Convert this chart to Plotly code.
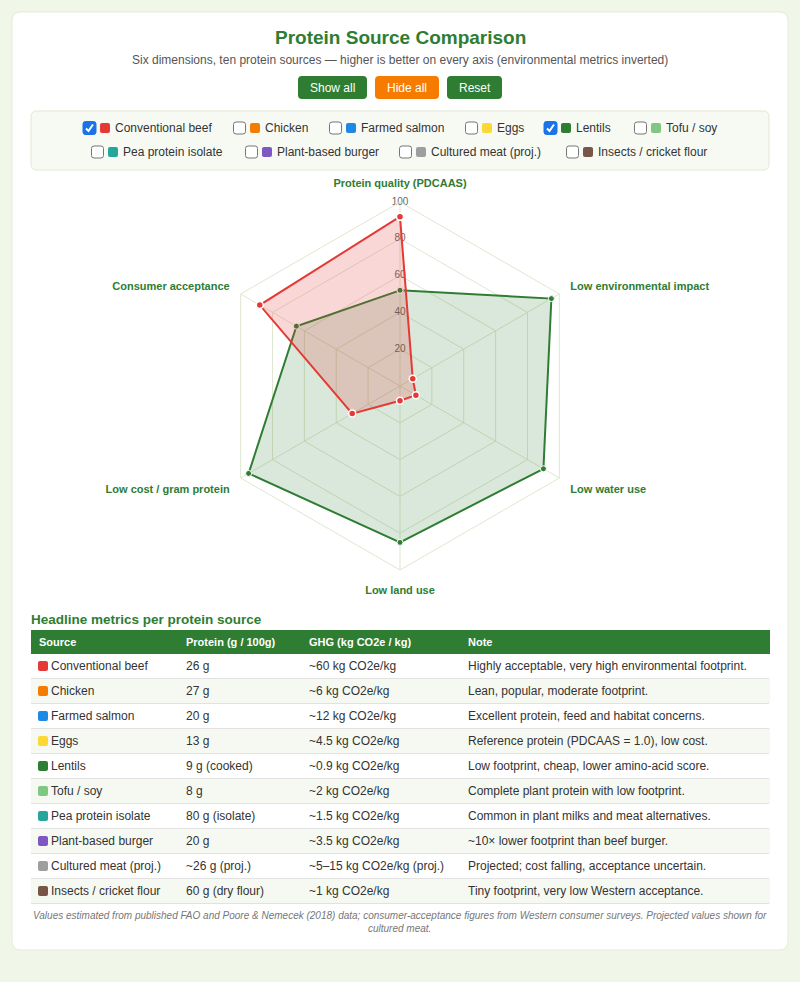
import plotly.graph_objects as go

W, H = 800, 982
FONT = "Liberation Sans, Arial, Helvetica, sans-serif"
GREEN = "#2e7d32"

# ---------------- data ----------------
axes_labels = ["Protein quality (PDCAAS)", "Low environmental impact", "Low water use",
               "Low land use", "Low cost / gram protein", "Consumer acceptance"]
radial_ticks = [20, 40, 60, 80, 100]
beef_values = [92, 8, 10, 8, 30, 88]
lentil_values = [52, 95, 90, 85, 95, 65]

sources = ["Conventional beef", "Chicken", "Farmed salmon", "Eggs", "Lentils", "Tofu / soy",
           "Pea protein isolate", "Plant-based burger", "Cultured meat (proj.)", "Insects / cricket flour"]
source_colors = ["#e53935", "#f57c00", "#1e88e5", "#fdd835", "#2e7d32", "#81c784",
                 "#26a69a", "#7e57c2", "#9e9e9e", "#795548"]
checked = [True, False, False, False, True, False, False, False, False, False]
protein = ["26 g", "27 g", "20 g", "13 g", "9 g (cooked)", "8 g", "80 g (isolate)", "20 g",
           "~26 g (proj.)", "60 g (dry flour)"]
ghg = ["~60 kg CO2e/kg", "~6 kg CO2e/kg", "~12 kg CO2e/kg", "~4.5 kg CO2e/kg", "~0.9 kg CO2e/kg",
       "~2 kg CO2e/kg", "~1.5 kg CO2e/kg", "~3.5 kg CO2e/kg", "~5\u201315 kg CO2e/kg (proj.)", "~1 kg CO2e/kg"]
notes = ["Highly acceptable, very high environmental footprint.",
         "Lean, popular, moderate footprint.",
         "Excellent protein, feed and habitat concerns.",
         "Reference protein (PDCAAS = 1.0), low cost.",
         "Low footprint, cheap, lower amino-acid score.",
         "Complete plant protein with low footprint.",
         "Common in plant milks and meat alternatives.",
         "~10\u00d7 lower footprint than beef burger.",
         "Projected; cost falling, acceptance uncertain.",
         "Tiny footprint, very low Western acceptance."]
table_headers = ["Source", "Protein (g / 100g)", "GHG (kg CO2e / kg)", "Note"]
button_labels = ["Show all", "Hide all", "Reset"]


def X(x):
    return x / W


def Y(y):
    return 1 - y / H


def rrect_path(x0, y0, x1, y1, r):
    p = [("M", x0 + r, y0), ("L", x1 - r, y0), ("Q", x1, y0, x1, y0 + r), ("L", x1, y1 - r),
         ("Q", x1, y1, x1 - r, y1), ("L", x0 + r, y1), ("Q", x0, y1, x0, y1 - r), ("L", x0, y0 + r),
         ("Q", x0, y0, x0 + r, y0)]
    out = []
    for seg in p:
        cmd = seg[0]
        coords = seg[1:]
        pts = []
        for i in range(0, len(coords), 2):
            pts.append(f"{X(coords[i]):.5f},{Y(coords[i+1]):.5f}")
        out.append(cmd + " " + " ".join(pts))
    return " ".join(out) + " Z"


fig = go.Figure()

# radial tick labels (centered on the vertical spoke)
fig.add_trace(go.Scatterpolar(
    r=radial_ticks, theta=[axes_labels[0]] * len(radial_ticks), mode="text",
    text=[str(v) for v in radial_ticks], textposition="middle center",
    textfont=dict(size=10, color="#666", family=FONT), hoverinfo="skip", showlegend=False))

fig.add_trace(go.Scatterpolar(
    r=lentil_values + lentil_values[:1], theta=axes_labels + axes_labels[:1],
    name="Lentils", mode="lines+markers", fill="toself",
    fillcolor="rgba(46,125,50,0.18)", line=dict(color="#2e7d32", width=2),
    marker=dict(size=6, color="#2e7d32", line=dict(color="white", width=1)), showlegend=False))

fig.add_trace(go.Scatterpolar(
    r=beef_values + beef_values[:1], theta=axes_labels + axes_labels[:1],
    name="Conventional beef", mode="lines+markers", fill="toself",
    fillcolor="rgba(229,57,53,0.2)", line=dict(color="#e53935", width=2),
    marker=dict(size=7, color="#e53935", line=dict(color="white", width=1.5)), showlegend=False))

# table
n = len(sources)
row_fill = ["#ffffff" if i % 2 == 0 else "#f6f9f1" for i in range(n)]
fig.add_trace(go.Table(
    domain=dict(x=[X(31), X(769)], y=[Y(905), Y(630)]),
    columnwidth=[147, 123, 159, 309],
    header=dict(values=table_headers, align="left", height=23,
                fill=dict(color=GREEN), line=dict(color=GREEN, width=1),
                font=dict(color="white", size=11, family=FONT, weight="bold")),
    cells=dict(values=[["\u2003" + s for s in sources], protein, ghg, notes], align="left", height=25,
               fill=dict(color=[row_fill] * 4), line=dict(color=[row_fill] * 4, width=1),
               font=dict(color="#333", size=12, family=FONT))))

shapes = []
annotations = []

# card
shapes.append(dict(type="path", path=rrect_path(12, 12, 788, 950, 9), xref="paper", yref="paper",
                   fillcolor="white", line=dict(color="#e4ecda", width=1), layer="below"))
# legend panel
shapes.append(dict(type="path", path=rrect_path(31, 111, 769, 170, 6), xref="paper", yref="paper",
                   fillcolor="#f7faf3", line=dict(color="#dfe8d3", width=1), layer="below"))

# title / subtitle
annotations.append(dict(text="<b>Protein Source Comparison</b>", x=0.5, y=Y(38), xref="paper", yref="paper",
                        showarrow=False, font=dict(size=19, color=GREEN, family=FONT), xanchor="center", yanchor="middle"))
annotations.append(dict(text="Six dimensions, ten protein sources \u2014 higher is better on every axis (environmental metrics inverted)",
                        x=0.5, y=Y(60), xref="paper", yref="paper", showarrow=False,
                        font=dict(size=12, color="#555", family=FONT), xanchor="center", yanchor="middle"))

# buttons
button_box = [(298, 367, GREEN), (375, 439, "#f57c00"), (447, 502, GREEN)]
for lbl, (bx0, bx1, col) in zip(button_labels, button_box):
    shapes.append(dict(type="path", path=rrect_path(bx0, 76, bx1, 99, 4), xref="paper", yref="paper",
                       fillcolor=col, line=dict(width=0), layer="above"))
    annotations.append(dict(text=lbl, x=X((bx0 + bx1) / 2), y=Y(87.5), xref="paper", yref="paper",
                            showarrow=False, xanchor="center", yanchor="middle",
                            font=dict(size=12, color="white", family=FONT)))

# checkbox legend
legend_pos = [  # (checkbox x, row y)
    (83, 128), (233, 128), (329, 128), (465, 128), (544, 128), (634, 128),
    (91, 152), (245, 152), (399, 152), (566, 152)]
for i, (cx, cy) in enumerate(legend_pos):
    if checked[i]:
        shapes.append(dict(type="path", path=rrect_path(cx, cy - 6.5, cx + 13, cy + 6.5, 2.5), xref="paper", yref="paper",
                           fillcolor="#1a73e8", line=dict(color="#1a73e8", width=1), layer="above"))
        chk = f"M {X(cx+3):.5f},{Y(cy+0.5):.5f} L {X(cx+5.5):.5f},{Y(cy+3):.5f} L {X(cx+10):.5f},{Y(cy-3.5):.5f}"
        shapes.append(dict(type="path", path=chk, xref="paper", yref="paper",
                           line=dict(color="white", width=2), layer="above"))
    else:
        shapes.append(dict(type="path", path=rrect_path(cx + 0.5, cy - 6, cx + 12.5, cy + 6, 2.5), xref="paper", yref="paper",
                           fillcolor="white", line=dict(color="#767676", width=1), layer="above"))
    sx = cx + 17
    shapes.append(dict(type="path", path=rrect_path(sx, cy - 5, sx + 10, cy + 5, 2), xref="paper", yref="paper",
                       fillcolor=source_colors[i], line=dict(width=0), layer="above"))
    annotations.append(dict(text=sources[i], x=X(sx + 13), y=Y(cy), xref="paper", yref="paper", showarrow=False,
                            xanchor="left", yanchor="middle", font=dict(size=12, color="#333", family=FONT)))

# table heading
annotations.append(dict(text="<b>Headline metrics per protein source</b>", x=X(29), y=Y(619), xref="paper", yref="paper",
                        showarrow=False, xanchor="left", yanchor="middle", font=dict(size=13.5, color=GREEN, family=FONT)))

# table row separators and colour squares
for k in range(n):
    yc = 666 + 25 * k
    shapes.append(dict(type="line", x0=X(31), x1=X(769), y0=Y(yc + 12.5), y1=Y(yc + 12.5), xref="paper", yref="paper",
                       line=dict(color="#e2e2e2", width=1), layer="above"))
    shapes.append(dict(type="path", path=rrect_path(38, yc - 5, 48, yc + 5, 2), xref="paper", yref="paper",
                       fillcolor=source_colors[k], line=dict(width=0), layer="above"))

# footnote
annotations.append(dict(text="<i>Values estimated from published FAO and Poore &amp; Nemecek (2018) data; consumer-acceptance figures from Western consumer surveys. Projected values shown for<br>cultured meat.</i>",
                        x=0.5, y=Y(922), xref="paper", yref="paper", showarrow=False, xanchor="center", yanchor="middle",
                        align="center", font=dict(size=10, color="#777", family=FONT)))

fig.update_layout(
    width=W, height=H, autosize=False, margin=dict(l=0, r=0, t=0, b=0),
    paper_bgcolor="#f0f6e8", showlegend=False,
    font=dict(family=FONT),
    polar=dict(
        domain=dict(x=[X(216), X(584)], y=[Y(570), Y(202)]),
        bgcolor="rgba(0,0,0,0)", gridshape="linear",
        radialaxis=dict(range=[0, 100], tickvals=radial_ticks, showticklabels=False, ticks="",
                        showline=False, gridcolor="#dfe7cf", gridwidth=1, angle=90),
        angularaxis=dict(rotation=90, direction="clockwise", gridcolor="#dfe7cf", linecolor="#dfe7cf",
                         showline=True, ticks="outside", ticklen=10, tickcolor="rgba(0,0,0,0)",
                         tickfont=dict(size=11, color=GREEN, family=FONT, weight="bold"))),
    shapes=shapes, annotations=annotations)

fig.write_html("out.html")
